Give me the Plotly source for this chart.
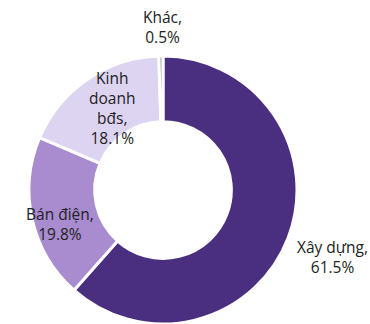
import plotly.graph_objects as go

categories = ["Xây dựng", "Bán điện", "Kinh doanh bđs", "Khác"]
values = [61.5, 19.8, 18.1, 0.5]
label_lines = ["Xây dựng,<br>61.5%", "Bán điện,<br>19.8%", "Kinh<br>doanh<br>bđs,<br>18.1%", "Khác,<br>0.5%"]

colors = ["#4A2F80", "#A98BCF", "#DDD4F2", "#A6A6A6"]

W, H = 370, 324
cx, cy, r = 163, 190, 134

fig = go.Figure(go.Pie(
    labels=categories,
    values=values,
    sort=False,
    direction="clockwise",
    rotation=0,
    hole=0.51,
    textinfo="none",
    marker=dict(colors=colors, line=dict(color="white", width=3)),
    domain=dict(x=[(cx - r) / W, (cx + r) / W], y=[(H - cy - r) / H, (H - cy + r) / H]),
    showlegend=False,
))

label_pos = [(332, 257), (60, 224), (112, 108), (162, 27)]
for txt, (px, py) in zip(label_lines, label_pos):
    fig.add_annotation(
        x=px / W, y=1 - py / H, xref="paper", yref="paper",
        text=txt, showarrow=False, xanchor="center", yanchor="middle",
        align="center", font=dict(family="Open Sans", size=15.5, color="#222222"),
    )

fig.update_layout(
    width=W, height=H,
    margin=dict(l=0, r=0, t=0, b=0),
    paper_bgcolor="white", plot_bgcolor="white",
)

fig.write_html("out.html")
